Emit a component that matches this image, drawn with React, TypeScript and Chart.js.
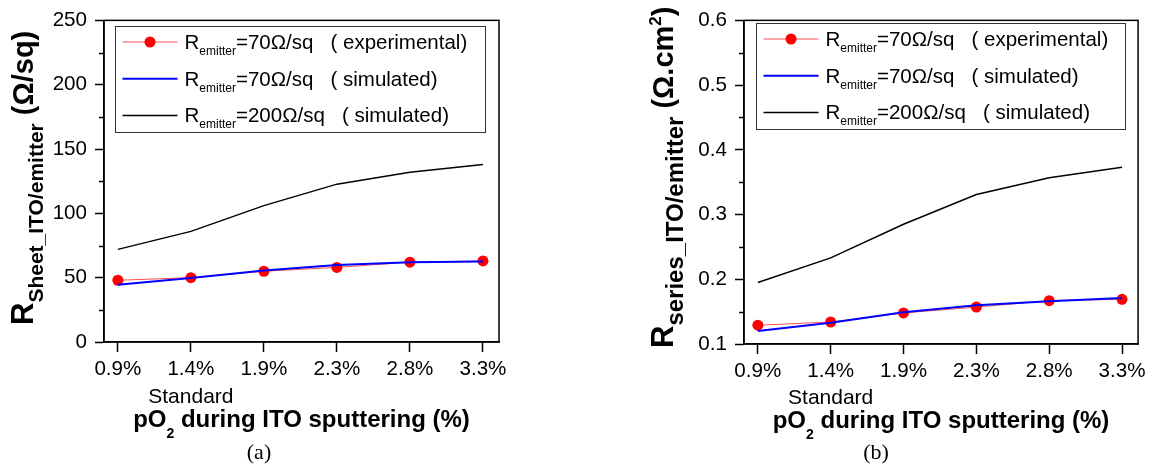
import React, { useEffect, useRef } from "react";
import { Chart, registerables } from "chart.js";

Chart.register(...registerables);

// ---------------- data ----------------
const categories = ["0.9%", "1.4%", "1.9%", "2.3%", "2.8%", "3.3%"];

// (a) sheet resistance, Ω/sq
const sheetExperimental70 = [48, 50, 55, 58, 62, 63];
const sheetSimulated70 = [44.5, 49.7, 55.5, 59.8, 61.9, 62.6];
const sheetSimulated200 = [72, 86, 106, 122.7, 132, 138];
const sheetYTicks = [0, 50, 100, 150, 200, 250];

// (b) series resistance, Ω.cm²
const seriesExperimental70 = [0.129, 0.134, 0.148, 0.157, 0.167, 0.169];
const seriesSimulated70 = [0.12, 0.133, 0.149, 0.16, 0.166, 0.171];
const seriesSimulated200 = [0.195, 0.233, 0.285, 0.331, 0.357, 0.373];
const seriesYTicks = [0.1, 0.2, 0.3, 0.4, 0.5, 0.6];

const legendValues = ["=70Ω/sq", "=70Ω/sq", "=200Ω/sq"];
const legendKinds = ["( experimental)", "( simulated)", "( simulated)"];

const SANS = "'Liberation Sans', Arial, Helvetica, sans-serif";
const SERIF = "'Liberation Serif', 'Times New Roman', serif";

type Piece = { text: string; font: string; dy: number };

function drawRich(ctx: CanvasRenderingContext2D, x: number, y: number, pieces: Piece[]) {
  let cx = x;
  for (const p of pieces) {
    ctx.font = p.font;
    ctx.fillText(p.text, cx, y + p.dy);
    cx += ctx.measureText(p.text).width;
  }
  return cx;
}
function richWidth(ctx: CanvasRenderingContext2D, pieces: Piece[]) {
  let w = 0;
  for (const p of pieces) {
    ctx.font = p.font;
    w += ctx.measureText(p.text).width;
  }
  return w;
}

type Decor = {
  legend: { dx: number; dy: number; w: number; h: number };
  standardBaseline: number;
  xTitleBaseline: number;
  yTitleX: number;
  yTitleStart: number;
  yTitlePieces: Piece[];
  caption: string;
  captionX: number;
  captionY: number;
  majors: number[];
};

function decorPlugin(d: Decor) {
  return {
    id: "decor",
    afterDraw(chart: any) {
      const ctx: CanvasRenderingContext2D = chart.ctx;
      const a = chart.chartArea;
      const xs = chart.scales.x;
      const ys = chart.scales.y;
      ctx.save();
      // frame
      ctx.strokeStyle = "#000";
      ctx.lineWidth = 1.5;
      ctx.strokeRect(a.left, a.top, a.right - a.left, a.bottom - a.top);
      // minor ticks
      for (let i = 0; i < d.majors.length - 1; i++) {
        const v = (d.majors[i] + d.majors[i + 1]) / 2;
        const y = Math.round(ys.getPixelForValue(v)) + 0.5;
        ctx.beginPath();
        ctx.moveTo(a.left - 5, y);
        ctx.lineTo(a.left, y);
        ctx.stroke();
      }
      // legend
      const bx = Math.round(a.left + d.legend.dx) + 0.5;
      const by = Math.round(a.top + d.legend.dy) + 0.5;
      ctx.lineWidth = 1;
      ctx.strokeStyle = "#333";
      ctx.strokeRect(bx, by, d.legend.w, d.legend.h);
      ctx.fillStyle = "#000";
      ctx.textBaseline = "alphabetic";
      ctx.textAlign = "left";
      chart.data.datasets.forEach((ds: any, i: number) => {
        const base = by + 22.5 + i * 36.7;
        const ly = base - 7;
        ctx.strokeStyle = ds.borderColor;
        ctx.lineWidth = ds.borderWidth;
        ctx.beginPath();
        ctx.moveTo(bx + 7, ly);
        ctx.lineTo(bx + 62, ly);
        ctx.stroke();
        if (ds.pointRadius > 0) {
          ctx.fillStyle = ds.pointBackgroundColor;
          ctx.beginPath();
          ctx.arc(bx + 34.5, ly, ds.pointRadius, 0, Math.PI * 2);
          ctx.fill();
        }
        ctx.fillStyle = "#000";
        drawRich(ctx, bx + 69, base, [
          { text: "R", font: `20.5px ${SANS}`, dy: 0 },
          { text: "emitter", font: `12px ${SANS}`, dy: 6 },
          { text: legendValues[i] + "   " + legendKinds[i], font: `20.5px ${SANS}`, dy: 0 },
        ]);
      });
      // Standard
      ctx.fillStyle = "#000";
      ctx.font = `21px ${SANS}`;
      ctx.textAlign = "center";
      ctx.fillText("Standard", xs.getPixelForValue(1), d.standardBaseline);
      // x title
      ctx.textAlign = "left";
      const xt: Piece[] = [
        { text: "pO", font: `bold 24px ${SANS}`, dy: 0 },
        { text: "2", font: `bold 14px ${SANS}`, dy: 11 },
        { text: " during ITO sputtering (%)", font: `bold 24px ${SANS}`, dy: 0 },
      ];
      const cx = (a.left + a.right) / 2;
      drawRich(ctx, cx - richWidth(ctx, xt) / 2, d.xTitleBaseline, xt);
      // y title
      ctx.save();
      ctx.translate(d.yTitleX, d.yTitleStart);
      ctx.rotate(-Math.PI / 2);
      drawRich(ctx, 0, 0, d.yTitlePieces);
      ctx.restore();
      // caption
      ctx.font = `22px ${SERIF}`;
      ctx.textAlign = "center";
      ctx.textBaseline = "middle";
      ctx.fillText(d.caption, d.captionX, d.captionY);
      ctx.restore();
    },
  };
}

function makeDatasets(exp: number[], sim70: number[], sim200: number[]) {
  const pts = (arr: number[]) => arr.map((v, i) => ({ x: i, y: v }));
  return [
    {
      label: "R_emitter=70Ω/sq ( experimental)",
      data: pts(exp),
      borderColor: "#ff5050",
      borderWidth: 1,
      pointRadius: 5.5,
      pointBackgroundColor: "#ff0000",
      pointBorderWidth: 0,
      pointBorderColor: "#ff0000",
      order: 2,
    },
    {
      label: "R_emitter=70Ω/sq ( simulated)",
      data: pts(sim70),
      borderColor: "#0000ff",
      borderWidth: 2,
      pointRadius: 0,
      order: 1,
    },
    {
      label: "R_emitter=200Ω/sq ( simulated)",
      data: pts(sim200),
      borderColor: "#000000",
      borderWidth: 1.5,
      pointRadius: 0,
      order: 3,
    },
  ];
}

type PanelProps = {
  width: number;
  exp: number[];
  sim70: number[];
  sim200: number[];
  majors: number[];
  fmt: (v: number) => string;
  padding: { left: number; top: number; right: number; bottom: number };
  yWidth: number;
  decor: Decor;
};

function Panel(p: PanelProps) {
  const ref = useRef<HTMLCanvasElement | null>(null);
  useEffect(() => {
    if (!ref.current) return;
    const chart = new Chart(ref.current, {
      type: "line",
      data: { datasets: makeDatasets(p.exp, p.sim70, p.sim200) as any },
      options: {
        animation: false,
        responsive: false,
        events: [],
        layout: { padding: p.padding },
        plugins: { legend: { display: false }, tooltip: { enabled: false } },
        elements: { line: { tension: 0 } },
        scales: {
          x: {
            type: "linear",
            min: -0.19,
            max: 5.22,
            afterBuildTicks: (s: any) => {
              s.ticks = categories.map((_, i) => ({ value: i }));
            },
            afterFit: (s: any) => {
              s.height = 40;
            },
            ticks: {
              color: "#000",
              font: { family: SANS, size: 20.6 },
              padding: 5,
              maxRotation: 0,
              autoSkip: false,
              callback: (v: any) => categories[Math.round(Number(v))] ?? "",
            },
            grid: {
              display: true,
              drawOnChartArea: false,
              drawTicks: true,
              tickLength: 10,
              tickColor: "#000",
              tickWidth: 1.5,
            },
            border: { display: true, color: "#000", width: 1.5 },
          },
          y: {
            type: "linear",
            min: p.majors[0],
            max: p.majors[p.majors.length - 1],
            afterBuildTicks: (s: any) => {
              s.ticks = p.majors.map((v) => ({ value: v }));
            },
            afterFit: (s: any) => {
              s.width = p.yWidth;
            },
            ticks: {
              color: "#000",
              font: { family: SANS, size: 20.6 },
              padding: 8,
              autoSkip: false,
              callback: (v: any) => p.fmt(Number(v)),
            },
            grid: {
              display: true,
              drawOnChartArea: false,
              drawTicks: true,
              tickLength: 9,
              tickColor: "#000",
              tickWidth: 1.5,
            },
            border: { display: true, color: "#000", width: 1.5 },
          },
        },
      },
      plugins: [decorPlugin(p.decor)],
    });
    return () => chart.destroy();
  }, []);
  return <canvas ref={ref} width={p.width} height={471} style={{ display: "block" }} />;
}

export default function App() {
  return (
    <div
      style={{
        position: "fixed",
        left: 0,
        top: 0,
        width: 1151,
        height: 471,
        background: "#fff",
        display: "flex",
      }}
    >
      <Panel
        width={575}
        exp={sheetExperimental70}
        sim70={sheetSimulated70}
        sim200={sheetSimulated200}
        majors={sheetYTicks}
        fmt={(v) => String(Math.round(v))}
        padding={{ left: 0, top: 12, right: 76, bottom: 89 }}
        yWidth={104}
        decor={{
          legend: { dx: 11, dy: 6, w: 370, h: 106 },
          standardBaseline: 403,
          xTitleBaseline: 427,
          yTitleX: 33,
          yTitleStart: 325,
          yTitlePieces: [
            { text: "R", font: `bold 31px ${SANS}`, dy: 0 },
            { text: "Sheet_ITO/emitter", font: `bold 21px ${SANS}`, dy: 10 },
            { text: " (Ω/sq)", font: `bold 29px ${SANS}`, dy: 0 },
          ],
          caption: "(a)",
          captionX: 259,
          captionY: 453,
          majors: sheetYTicks,
        }}
      />
      <Panel
        width={576}
        exp={seriesExperimental70}
        sim70={seriesSimulated70}
        sim200={seriesSimulated200}
        majors={seriesYTicks}
        fmt={(v) => v.toFixed(1)}
        padding={{ left: 0, top: 14, right: 12, bottom: 87 }}
        yWidth={169}
        decor={{
          legend: { dx: 12, dy: 3, w: 369, h: 106 },
          standardBaseline: 404,
          xTitleBaseline: 428,
          yTitleX: 98,
          yTitleStart: 348,
          yTitlePieces: [
            { text: "R", font: `bold 31px ${SANS}`, dy: 0 },
            { text: "series_ITO/emitter", font: `bold 24px ${SANS}`, dy: 10 },
            { text: " (Ω.cm", font: `bold 29px ${SANS}`, dy: 0 },
            { text: "2", font: `bold 17px ${SANS}`, dy: -12 },
            { text: ")", font: `bold 29px ${SANS}`, dy: 0 },
          ],
          caption: "(b)",
          captionX: 301,
          captionY: 453,
          majors: seriesYTicks,
        }}
      />
    </div>
  );
}
